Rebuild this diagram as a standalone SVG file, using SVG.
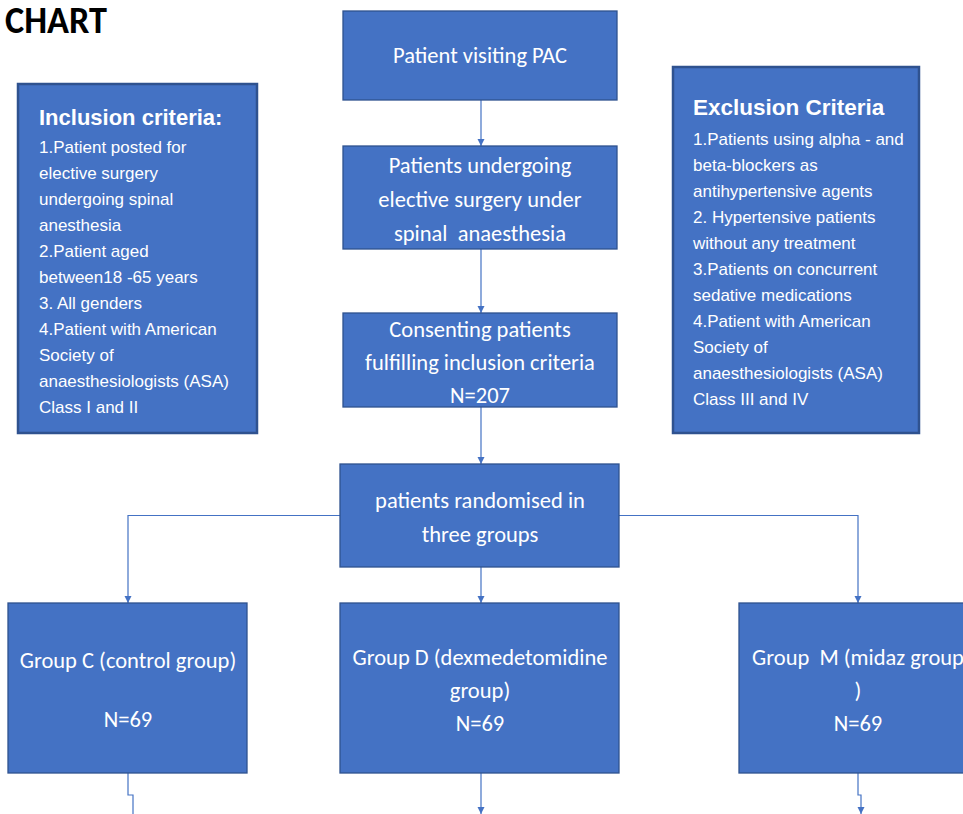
<svg xmlns="http://www.w3.org/2000/svg" width="963" height="814" viewBox="0 0 963 814">
<defs>
<style>
.box{fill:#4472C4;stroke:#2F528F;stroke-width:1.3}
.cbox{fill:#4472C4;stroke:#2F528F;stroke-width:2.5}
.t{font-family:Carlito,Calibri,Lato,"Open Sans",sans-serif;font-size:22.5px;fill:#fff;text-anchor:middle}
.a{font-family:"Liberation Sans",Arial,sans-serif;font-size:17px;fill:#fff}
.h{font-family:"Liberation Sans",Arial,sans-serif;font-size:22px;font-weight:bold;fill:#fff}
.title{font-family:Carlito,Calibri,Lato,sans-serif;font-size:38px;font-weight:bold;fill:#000}
.c{fill:none;stroke:#4472C4;stroke-width:1.2}
</style>
<marker id="ah" markerWidth="8" markerHeight="8" refX="7" refY="4" orient="auto" markerUnits="userSpaceOnUse">
<path d="M0,0.5 L7,4 L0,7.5 Z" fill="#4472C4"/>
</marker>
</defs>
<rect width="963" height="814" fill="#fff"/>
<text class="title" x="5" y="33" textLength="102" lengthAdjust="spacingAndGlyphs">CHART</text>

<g id="connectors">
<line class="c" x1="481" y1="100" x2="481" y2="146" marker-end="url(#ah)"/>
<line class="c" x1="481" y1="249" x2="481" y2="313" marker-end="url(#ah)"/>
<line class="c" x1="481" y1="407" x2="481" y2="464" marker-end="url(#ah)"/>
<line class="c" x1="481" y1="567" x2="481" y2="603" marker-end="url(#ah)"/>
<polyline class="c" points="340,515.5 128,515.5 128,603" marker-end="url(#ah)"/>
<polyline class="c" points="619,515.5 858,515.5 858,603" marker-end="url(#ah)"/>
<polyline class="c" points="128,773 128,795 133,795 133,820"/>
<line class="c" x1="481" y1="773" x2="481" y2="814" marker-end="url(#ah)"/>
<polyline class="c" points="858,773 858,795 861,795 861,814" marker-end="url(#ah)"/>
</g>

<g id="inclusion">
<rect class="cbox" x="18" y="84" width="239" height="349"/>
<text class="h" x="39" y="125">Inclusion criteria:</text>
<text class="a" x="39" y="153">1.Patient posted for</text>
<text class="a" x="39" y="179">elective surgery</text>
<text class="a" x="39" y="205">undergoing spinal</text>
<text class="a" x="39" y="231">anesthesia</text>
<text class="a" x="39" y="257">2.Patient aged</text>
<text class="a" x="39" y="283">between18 -65 years</text>
<text class="a" x="39" y="309">3. All genders</text>
<text class="a" x="39" y="335">4.Patient with American</text>
<text class="a" x="39" y="361">Society of</text>
<text class="a" x="39" y="387">anaesthesiologists (ASA)</text>
<text class="a" x="39" y="413">Class I and II</text>
</g>

<g id="exclusion">
<rect class="cbox" x="673" y="67" width="246" height="366"/>
<text class="h" x="693" y="115" style="font-size:22.5px">Exclusion Criteria</text>
<text class="a" x="693" y="145">1.Patients using alpha  - and</text>
<text class="a" x="693" y="171">beta-blockers as</text>
<text class="a" x="693" y="197">antihypertensive agents</text>
<text class="a" x="693" y="223">2. Hypertensive patients</text>
<text class="a" x="693" y="249">without any treatment</text>
<text class="a" x="693" y="275">3.Patients on concurrent</text>
<text class="a" x="693" y="301">sedative medications</text>
<text class="a" x="693" y="327">4.Patient with American</text>
<text class="a" x="693" y="353">Society of</text>
<text class="a" x="693" y="379">anaesthesiologists (ASA)</text>
<text class="a" x="693" y="405">Class III and IV</text>
</g>

<g id="pac">
<rect class="box" x="343" y="11" width="274" height="89"/>
<text class="t" x="480" y="63">Patient visiting PAC</text>
</g>

<g id="undergoing">
<rect class="box" x="343" y="146" width="274" height="103"/>
<text class="t" x="480" y="173">Patients undergoing</text>
<text class="t" x="480" y="207">elective surgery under</text>
<text class="t" x="480" y="241" xml:space="preserve">spinal  anaesthesia</text>
</g>

<g id="consenting">
<rect class="box" x="343" y="313" width="274" height="94"/>
<text class="t" x="480" y="337">Consenting patients</text>
<text class="t" x="480" y="370">fulfilling inclusion criteria</text>
<text class="t" x="480" y="403">N=207</text>
</g>

<g id="randomised">
<rect class="box" x="340" y="464" width="279" height="103"/>
<text class="t" x="480" y="508">patients randomised in</text>
<text class="t" x="480" y="542">three groups</text>
</g>

<g id="groupC">
<rect class="box" x="8" y="603" width="239" height="170"/>
<text class="t" x="128" y="668">Group C (control group)</text>
<text class="t" x="128" y="727">N=69</text>
</g>

<g id="groupD">
<rect class="box" x="340" y="603" width="279" height="170"/>
<text class="t" x="480" y="665">Group D (dexmedetomidine</text>
<text class="t" x="480" y="698">group)</text>
<text class="t" x="480" y="731">N=69</text>
</g>

<g id="groupM">
<rect class="box" x="739" y="603" width="239" height="170"/>
<text class="t" x="858" y="665" xml:space="preserve">Group  M (midaz group</text>
<text class="t" x="858" y="698">)</text>
<text class="t" x="858" y="731">N=69</text>
</g>
</svg>
